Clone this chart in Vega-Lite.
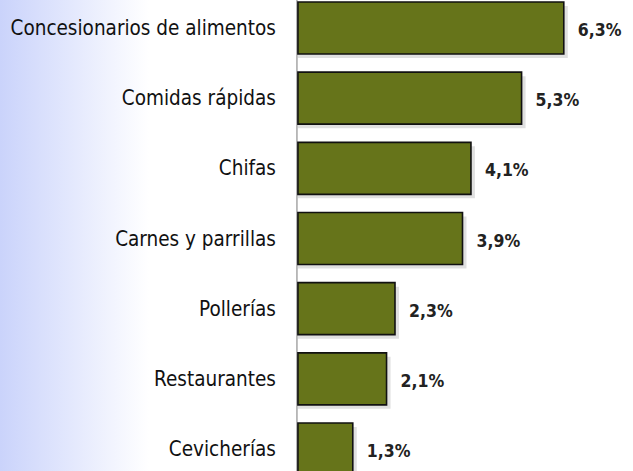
{
  "$schema": "https://vega.github.io/schema/vega-lite/v6.json",
  "width": 633,
  "height": 471,
  "autosize": "none",
  "padding": 0,
  "background": "white",
  "config": {"view": {"stroke": null}},
  "data": {
    "values": [
      {"cat": "Concesionarios de alimentos", "val": 6.3, "label": "6,3%"},
      {"cat": "Comidas rápidas", "val": 5.3, "label": "5,3%"},
      {"cat": "Chifas", "val": 4.1, "label": "4,1%"},
      {"cat": "Carnes y parrillas", "val": 3.9, "label": "3,9%"},
      {"cat": "Pollerías", "val": 2.3, "label": "2,3%"},
      {"cat": "Restaurantes", "val": 2.1, "label": "2,1%"},
      {"cat": "Cevicherías", "val": 1.3, "label": "1,3%"}
    ]
  },
  "layer": [
    {
      "data": {"values": [{"bg": 1}]},
      "mark": {
        "type": "rect",
        "color": {
          "gradient": "linear", "x1": 0, "x2": 1, "y1": 0, "y2": 0,
          "stops": [
            {"offset": 0, "color": "#cad3fb"},
            {"offset": 0.5, "color": "#ffffff"},
            {"offset": 1, "color": "#ffffff"}
          ]
        }
      },
      "encoding": {
        "x": {"datum": -7.06, "type": "quantitative", "scale": {"domain": [-7.06, 7.94], "nice": false, "zero": false}, "axis": null},
        "x2": {"datum": 0}
      }
    },
    {
      "data": {"values": [{"ax": 1}]},
      "mark": {"type": "rule", "color": "#a6a6a6", "strokeWidth": 1.5, "xOffset": -1},
      "encoding": {
        "x": {"datum": 0, "type": "quantitative", "scale": {"domain": [-7.06, 7.94], "nice": false, "zero": false}, "axis": null}
      }
    },
    {
      "mark": {"type": "bar", "fill": "#000000", "opacity": 0.12, "xOffset": 4, "yOffset": 4, "y2Offset": 4},
      "encoding": {
        "y": {"field": "cat", "type": "nominal", "sort": null, "scale": {"range": [2, 475], "paddingInner": 0.259, "paddingOuter": 0}, "axis": null},
        "x": {"field": "val", "type": "quantitative", "scale": {"domain": [-7.06, 7.94], "nice": false, "zero": false}, "axis": null},
        "x2": {"datum": 0}
      }
    },
    {
      "mark": {"type": "bar", "fill": "#66741a", "stroke": "#111111", "strokeWidth": 1.6},
      "encoding": {
        "y": {"field": "cat", "type": "nominal", "sort": null, "scale": {"range": [2, 475], "paddingInner": 0.259, "paddingOuter": 0}, "axis": null},
        "x": {"field": "val", "type": "quantitative", "scale": {"domain": [-7.06, 7.94], "nice": false, "zero": false}, "axis": null},
        "x2": {"datum": 0}
      }
    },
    {
      "mark": {"type": "text", "align": "right", "baseline": "middle", "dx": -22, "dy": 1, "font": "DejaVu Sans Condensed, sans-serif", "fontSize": 20.5, "color": "#111111"},
      "encoding": {
        "y": {"field": "cat", "type": "nominal", "sort": null, "scale": {"range": [2, 475], "paddingInner": 0.259, "paddingOuter": 0}, "axis": null},
        "x": {"datum": 0, "type": "quantitative", "scale": {"domain": [-7.06, 7.94], "nice": false, "zero": false}, "axis": null},
        "text": {"field": "cat"}
      }
    },
    {
      "mark": {"type": "text", "align": "left", "baseline": "middle", "dx": 14, "dy": 3, "font": "DejaVu Sans Condensed, sans-serif", "fontSize": 17.5, "fontWeight": "bold", "color": "#222222"},
      "encoding": {
        "y": {"field": "cat", "type": "nominal", "sort": null, "scale": {"range": [2, 475], "paddingInner": 0.259, "paddingOuter": 0}, "axis": null},
        "x": {"field": "val", "type": "quantitative", "scale": {"domain": [-7.06, 7.94], "nice": false, "zero": false}, "axis": null},
        "text": {"field": "label"}
      }
    }
  ]
}
